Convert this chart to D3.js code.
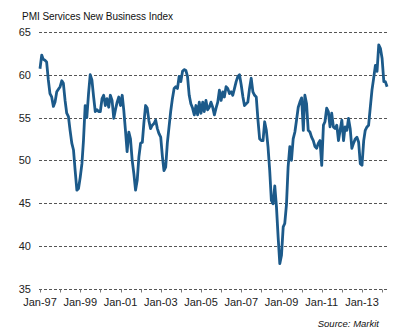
<!DOCTYPE html>
<html>
<head>
<meta charset="utf-8">
<script src="https://cdn.jsdelivr.net/npm/d3@7"></script>
<style>
  html, body { margin: 0; padding: 0; background: #fff; }
  svg { display: block; font-family: "Liberation Sans", Arial, sans-serif; }
  .grid line { stroke: #555; stroke-width: 1; stroke-dasharray: 3,2; }
  .axis text { fill: #222; font-size: 11px; }
</style>
</head>
<body>
<div id="chart"></div>
<script>
// monthly index, Jan-97 onwards
var startYear = 1997;
var newBusiness = [
  60.7, 62.3, 61.8, 61.7, 61.5, 59.4, 57.8, 57.4, 56.3, 56.8, 58.0, 58.3,
  58.6, 59.3, 59.0, 57.0, 55.5, 55.1, 53.5, 52.0, 51.2, 48.8, 46.5, 46.7,
  48.0, 49.6, 52.3, 56.4, 55.0, 57.8, 60.0, 59.4, 57.4, 55.7, 55.9, 55.7,
  55.7, 57.2, 57.6, 56.4, 57.2, 56.2, 57.6, 57.0, 54.9, 55.9, 56.8, 57.4,
  56.4, 57.6, 55.9, 53.5, 51.0, 53.3, 52.5, 50.0, 48.4, 46.5, 47.7, 50.4,
  52.0, 52.1, 54.3, 56.4, 56.1, 54.6, 53.7, 54.1, 54.3, 54.7, 53.7, 53.1,
  52.7, 50.4, 48.8, 49.2, 52.0, 53.9, 55.7, 57.2, 58.4, 58.6, 58.4, 59.8,
  59.2, 60.4, 60.6, 60.5, 59.8, 57.6, 56.6, 56.1, 55.3, 56.4, 55.3, 56.8,
  55.5, 56.8, 55.7, 57.0, 55.9, 56.2, 56.8, 56.2, 55.3, 56.1, 56.8, 58.2,
  57.0, 58.0, 57.4, 58.6, 58.4, 57.8, 58.0, 57.6, 58.4, 59.2, 59.8, 60.0,
  58.8, 57.4, 56.4, 56.6, 56.8, 58.4, 59.6, 58.0, 57.6, 57.4, 54.7, 52.5,
  52.3, 52.3, 54.5, 53.5, 51.6, 48.8, 45.3, 44.9, 47.0, 44.6, 41.0, 37.9,
  38.9, 42.2, 42.6, 44.8, 49.2, 51.6, 50.0, 52.5, 53.3, 54.7, 56.2, 56.8,
  57.3, 53.5, 57.6, 56.6, 53.5, 53.3, 52.7, 52.3, 51.6, 51.4, 52.0, 52.3,
  49.4, 54.1, 54.5, 56.1, 55.7, 53.9, 55.5, 53.9, 53.7, 54.1, 52.3, 53.5,
  54.7, 52.3, 53.9, 53.5, 54.9, 53.7, 51.4, 52.0, 52.5, 52.7, 52.1, 49.6,
  49.4, 52.3, 53.5, 53.9, 54.1, 56.2, 58.2, 59.6, 61.1, 60.4, 63.5, 63.1,
  61.9, 59.2, 59.2, 58.6
];
var yTicks = [35, 40, 45, 50, 55, 60, 65];
var xTickLabels = ["Jan-97", "Jan-99", "Jan-01", "Jan-03", "Jan-05", "Jan-07", "Jan-09", "Jan-11", "Jan-13"];

(function() {
  var width = 411, height = 332;
  var plot = { left: 39, right: 387, top: 32, bottom: 288.5 };

  var data = newBusiness.map(function(v, i) {
    return { date: new Date(startYear, i, 1), value: v };
  });

  var svg = d3.select("#chart").append("svg")
    .attr("width", width)
    .attr("height", height);

  var x = d3.scaleTime()
    .domain([new Date(1997, 0, 1), new Date(2013, 0, 1)])
    .range([40, 362]);

  var y = d3.scaleLinear()
    .domain([35, 65])
    .range([plot.bottom, plot.top]);

  // dashed horizontal gridlines, the bottom one doubles as the axis
  var grid = svg.append("g").attr("class", "grid");
  grid.selectAll("line")
    .data(yTicks)
    .enter().append("line")
    .attr("x1", plot.left)
    .attr("x2", plot.right)
    .attr("y1", function(d) { return Math.round(y(d)) + 0.5; })
    .attr("y2", function(d) { return Math.round(y(d)) + 0.5; });

  // yearly tick marks under the baseline
  var years = d3.range(1997, 2015).map(function(yr) { return new Date(yr, 0, 1); });
  svg.append("g")
    .selectAll("line")
    .data(years)
    .enter().append("line")
    .attr("x1", function(d) { return Math.round(x(d)) + 0.5; })
    .attr("x2", function(d) { return Math.round(x(d)) + 0.5; })
    .attr("y1", Math.round(y(35)) + 0.5)
    .attr("y2", Math.round(y(35)) + 3.5)
    .attr("stroke", "#777")
    .attr("stroke-width", 1);

  // y labels
  var yAxis = svg.append("g").attr("class", "axis");
  yAxis.selectAll("text")
    .data(yTicks)
    .enter().append("text")
    .attr("x", 31)
    .attr("y", function(d) { return y(d) + 4; })
    .attr("text-anchor", "end")
    .text(function(d) { return d; });

  // x labels every two years
  var xAxis = svg.append("g").attr("class", "axis");
  xAxis.selectAll("text")
    .data(xTickLabels)
    .enter().append("text")
    .attr("x", function(d, i) { return x(new Date(startYear + i * 2, 0, 1)); })
    .attr("y", 306)
    .attr("text-anchor", "middle")
    .text(function(d) { return d; });

  var line = d3.line()
    .x(function(d) { return x(d.date); })
    .y(function(d) { return y(d.value); });

  svg.append("path")
    .datum(data)
    .attr("d", line)
    .attr("fill", "none")
    .attr("stroke", "#1c5a8a")
    .attr("stroke-width", 2.8)
    .attr("stroke-linejoin", "round");

  svg.append("text")
    .attr("x", 22)
    .attr("y", 20)
    .attr("font-size", "10px")
    .attr("fill", "#111")
    .attr("textLength", 151)
    .attr("lengthAdjust", "spacing")
    .text("PMI Services New Business Index");

  svg.append("text")
    .attr("x", 379)
    .attr("y", 327)
    .attr("text-anchor", "end")
    .attr("font-size", "9.5px")
    .attr("font-style", "italic")
    .attr("fill", "#111")
    .text("Source: Markit");
})();
</script>
</body>
</html>
